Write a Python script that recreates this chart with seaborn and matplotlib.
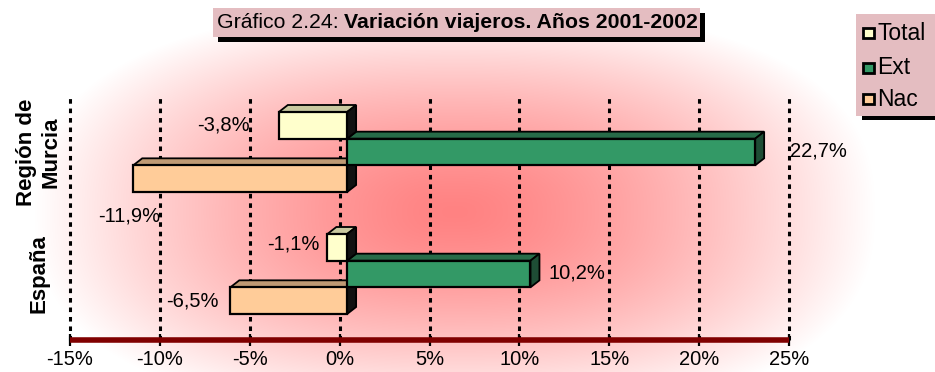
import numpy as np
import pandas as pd
import matplotlib
matplotlib.use("Agg")
import matplotlib.pyplot as plt
from matplotlib.patches import Polygon, Rectangle
import seaborn as sns

# ---- data -------------------------------------------------------------
regiones = ["Región de\nMurcia", "España"]
series = ["Total", "Ext", "Nac"]
total = [-3.8, -1.1]
ext = [22.7, 10.2]
nac = [-11.9, -6.5]
x_ticks = [-15, -10, -5, 0, 5, 10, 15, 20, 25]

titulo_normal = "Gráfico 2.24: "
titulo_negrita = "Variación viajeros. Años 2001-2002"

# ---- styling ----------------------------------------------------------
plt.rcParams["font.family"] = ["Liberation Sans", "DejaVu Sans"]
FS = 14.5

colores = {"Total": "#FFFFCC", "Ext": "#339966", "Nac": "#FFCC99"}
colores_techo = {"Total": "#C9C9A0", "Ext": "#276B48", "Nac": "#BF9A74"}
colores_lado = {"Total": "#111111", "Ext": "#1E4D35", "Nac": "#111111"}

valores = {"Total": total, "Ext": ext, "Nac": nac}
df = pd.DataFrame(
    [(reg, s, valores[s][i]) for i, reg in enumerate(regiones) for s in series],
    columns=["region", "serie", "valor"],
)

W, H = 935, 372
fig = plt.figure(figsize=(W / 100, H / 100), dpi=100)

# radial pink background
bg = fig.add_axes([0, 0, 1, 1], zorder=0)
yy, xx = np.mgrid[0:H, 0:W] + 0.5
cx, cy, rx, ry, p = 455, 212, 420, 205, 2.5
r = (np.abs((xx - cx) / rx) ** p + np.abs((yy - cy) / ry) ** p) ** (1 / p)
f = np.clip(1 - r ** 1.4, 0, 1)
centro = np.array([1.0, 0.51, 0.51])
rgb = 1 - f[..., None] * (1 - centro)
bg.imshow(rgb, extent=(0, W, H, 0), aspect="auto", interpolation="bilinear")
bg.set_xlim(0, W)
bg.set_ylim(H, 0)
bg.axis("off")

# plot area geometry (pixels)
top_px, bot_px = 96, 340
left_back, span = 70, 719
depth_x, depth_y = 9, 7
left_front = left_back + 7.5
xmin, xmax = -15, 25
px_per_unit = span / (xmax - xmin)
cat_px0, cat_step = 152, 122

rect_v = [(H - bot_px) / H, (bot_px - top_px) / H]

# back wall: gridlines and value axis
back = fig.add_axes([left_back / W, rect_v[0], span / W, rect_v[1]], zorder=1)
back.set_facecolor("none")
back.set_xlim(xmin, xmax)
back.set_ylim(0, 1)
for t in x_ticks:
    back.axvline(t, color="black", lw=2.2, ls=(0, (1.5, 1.6)), zorder=1,
                 clip_on=False)
for s in ["top", "right", "left"]:
    back.spines[s].set_visible(False)
back.spines["bottom"].set_color("#800000")
back.spines["bottom"].set_linewidth(4)
back.spines["bottom"].set_capstyle("butt")
back.set_xticks(x_ticks)
back.set_xticklabels([f"{t}%" for t in x_ticks])
back.tick_params(axis="x", direction="inout", length=9, width=1.6,
                 color="black", labelsize=FS, pad=3)
back.set_yticks([])

# front: 3-D looking bars
front = fig.add_axes([left_front / W, rect_v[0], span / W, rect_v[1]], zorder=2)
front.set_facecolor("none")
ancho = 80 / cat_step
sns.barplot(data=df, x="valor", y="region", hue="serie", order=regiones,
            hue_order=series, palette=colores, saturation=1, orient="h",
            width=ancho, edgecolor="black", linewidth=1.6, errorbar=None,
            legend=False, ax=front)
front.set_xlim(xmin, xmax)
y_top = (top_px - cat_px0) / cat_step
y_bot = (bot_px - cat_px0) / cat_step
front.set_ylim(y_bot, y_top)
front.set_xlabel("")
front.set_ylabel("")
front.set_xticks([])
for s in front.spines.values():
    s.set_visible(False)
front.tick_params(axis="y", length=0, pad=28)
plt.setp(front.get_yticklabels(), rotation=90, ha="center", va="center",
         fontweight="bold", fontsize=16, multialignment="center")

ddx = depth_x / px_per_unit
ddy = depth_y / cat_step
for h, (serie, cont) in enumerate(zip(series, front.containers)):
    z = 10 - 2 * h
    for bar in cont:
        bar.set_zorder(z)
        x0, w = bar.get_x(), bar.get_width()
        y0, hh = bar.get_y(), bar.get_height()
        xl, xr = min(x0, x0 + w), max(x0, x0 + w)
        yt, yb = min(y0, y0 + hh), max(y0, y0 + hh)
        techo = [(xl, yt), (xr, yt), (xr + ddx, yt - ddy), (xl + ddx, yt - ddy)]
        lado = [(xr, yt), (xr, yb), (xr + ddx, yb - ddy), (xr + ddx, yt - ddy)]
        front.add_patch(Polygon(techo, closed=True, fc=colores_techo[serie],
                                ec="black", lw=1.3, zorder=z - 0.5,
                                joinstyle="miter"))
        front.add_patch(Polygon(lado, closed=True, fc=colores_lado[serie],
                                ec="black", lw=1.3, zorder=z - 0.5,
                                joinstyle="miter"))

# value labels (offsets in pixels from the bar end)
desplaz = {
    (0, "Total"): (-29, 0, "right"),
    (0, "Ext"): (35, -1, "left"),
    (0, "Nac"): (27, 37, "right"),
    (1, "Total"): (-8, -3, "right"),
    (1, "Ext"): (18, -1, "left"),
    (1, "Nac"): (-12, 0, "right"),
}
bw = ancho / len(series)
for i in range(len(regiones)):
    for h, serie in enumerate(series):
        v = valores[serie][i]
        yc = i + (h - 1) * bw
        dx, dy, ha = desplaz[(i, serie)]
        front.annotate(f"{v:.1f}%".replace(".", ","), xy=(v, yc),
                       xytext=(dx * 0.72, -dy * 0.72), textcoords="offset points",
                       ha=ha, va="center", fontsize=FS, zorder=20)

# overlay: title box and legend
ov = fig.add_axes([0, 0, 1, 1], zorder=5)
ov.set_facecolor("none")
ov.set_xlim(0, W)
ov.set_ylim(H, 0)
ov.axis("off")

caja = "#E4BDC1"
ov.add_patch(Rectangle((218, 13), 487, 29, fc="black", ec="none"))
ov.add_patch(Rectangle((213, 8), 487, 29, fc=caja, ec="none"))
t1 = ov.text(217, 23, titulo_normal, ha="left", va="center", fontsize=15.3)
ov.annotate(titulo_negrita, xy=(1, 0), xycoords=t1, ha="left", va="bottom",
            fontsize=15.3, fontweight="bold")

ov.add_patch(Rectangle((862, 18), 80, 102, fc="black", ec="none"))
ov.add_patch(Rectangle((856, 14), 80, 102, fc=caja, ec="none"))
for serie, cyl in zip(series, [33, 68, 99]):
    ov.add_patch(Rectangle((863, cyl - 5), 11, 10, fc=colores[serie],
                           ec="black", lw=2))
    ov.text(877, cyl, serie, ha="left", va="center", fontsize=16.5)

fig.savefig("out.png", dpi=100)
